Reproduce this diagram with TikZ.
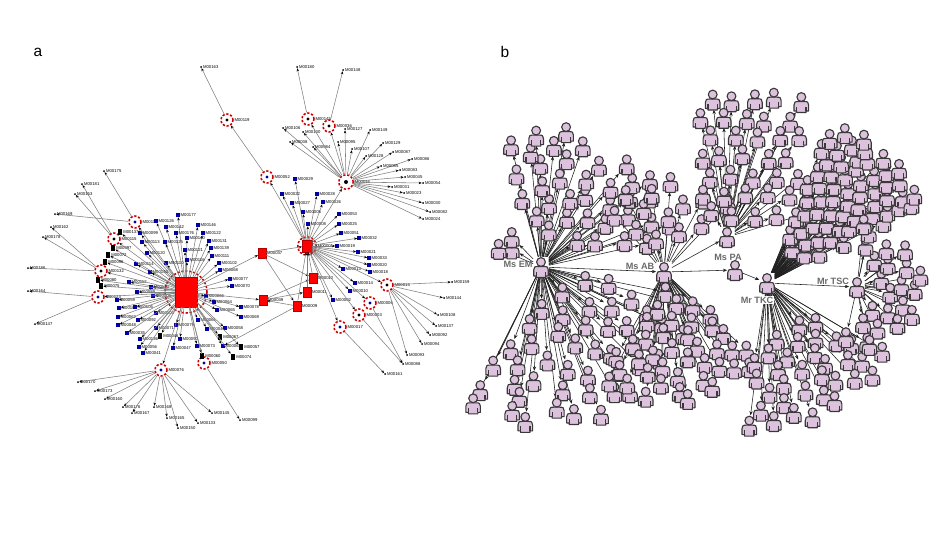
\documentclass[tikz,border=0pt]{standalone}
\usepackage{fontspec}
\setmainfont{Liberation Sans}
\usetikzlibrary{arrows.meta,positioning}
\pgfdeclarelayer{fond}
\pgfsetlayers{fond,main}
\definecolor{mauve}{RGB}{221,194,222}
\definecolor{violet2}{RGB}{165,40,235}
\definecolor{gristxt}{RGB}{105,105,105}

\tikzset{lettre/.style = {font=\fontsize{11}{13}\selectfont, inner sep=0},
         etiq/.style = {font=\fontsize{3}{3.5}\selectfont, inner sep=0.4pt},
         nom/.style = {font=\fontsize{6.5}{8}\selectfont\bfseries, text=gristxt, inner sep=0.6pt},
         lien/.style = {draw=gray, line width=0.4pt,
                        -{Stealth[length=2.2pt,width=1.8pt,color=black]}},
         fil/.style = {draw=gray!25!black, line width=0.4pt,
                       -{Stealth[length=3pt,width=2.4pt]}},
         feuille/.style = {fill=blue!65!black, minimum width=0.8mm, minimum height=1mm, inner sep=0},
         noir/.style = {fill=black, minimum width=1.1mm, minimum height=1.5mm, inner sep=0},
         point/.style = {circle, fill=black, minimum size=0.5mm, inner sep=0},
         carre/.style = {fill=red, draw=red!70!black, line width=0.3pt,
                         minimum width=2mm, minimum height=2.6mm, inner sep=0},
         anneau/.style = {circle, draw=red!80!black, dash pattern=on 1.6pt off 1.2pt,
                          line width=1.1pt, minimum size=3mm, inner sep=0},
         place/.style = {minimum width=3.8mm, minimum height=5mm, inner sep=0},
         corps/.style = {fill=mauve, draw=gray!45!black, line width=0.8pt, line join=round},
         perso/.pic = {
           \draw[corps, pic actions] (-4.7,10.5) -- (-4.7,9) -- (-7.3,9) -- (-7.3,3)
             .. controls (-7.3,0) and (-6.2,-0.5) .. (-3,-0.5) -- (3,-0.5)
             .. controls (6.2,-0.5) and (7.3,0) .. (7.3,3) -- (7.3,9) -- (4.7,9) -- (4.7,10.5) -- cycle;
           \draw[corps, pic actions] (-4.7,9) -- (-4.7,4.5) (4.7,9) -- (4.7,4.5);
           \draw[corps, pic actions] (0,-5) circle (4.4);
         }
        }

% hub, prefix, count, angle min, angle max, radius min, radius max (radii in tens)
\newcommand\foule[7]{%
  \foreach \i in {1,...,#3}{
    \pgfmathsetmacro\fa{mod(\i*0.618034+0.08*rnd,1)}
    \pgfmathsetmacro\fr{(\i-0.5+0.4*(rnd-0.5))/#3}
    \pgfmathsetmacro\angf{#4+(#5-#4)*\fa}
    \pgfmathsetmacro\rayf{10*sqrt(#6*#6+(#7*#7-#6*#6)*\fr)}
    \node[place] (#2\i) at ([shift={({\rayf*cos(\angf)},{-\rayf*sin(\angf)})}]#1) {};
  }
  \begin{pgfonlayer}{fond}
    \foreach \i in {1,...,#3} \draw[fil] (#1) -- (#2\i);
  \end{pgfonlayer}
  \foreach \i in {1,...,#3} \pic at (#2\i) {perso};
}

% hub, prefix, x0, y0, columns, rows, dx, dy
\newcommand\grille[8]{%
  \foreach \rg in {1,...,#6}{\foreach \cg in {1,...,#5}{
    \pgfmathsetmacro\gx{#3+(\cg-1)*#7+mod(\rg,2)*#7/2+7*(rnd-0.5)}
    \pgfmathsetmacro\gy{#4+(\rg-1)*#8+6*(rnd-0.5)}
    \node[place] (#2\rg-\cg) at (\gx,\gy) {};
  }}
  \begin{pgfonlayer}{fond}
    \foreach \rg in {1,...,#6}{\foreach \cg in {1,...,#5} \draw[fil] (#1) -- (#2\rg-\cg);}
  \end{pgfonlayer}
  \foreach \rg in {1,...,#6}{\foreach \cg in {1,...,#5} \pic at (#2\rg-\cg) {perso};}
}

\begin{document}
\begin{tikzpicture}[x=0.25mm, y=-0.25mm]
  \useasboundingbox (0,0) rectangle (945,532);
  \node[lettre] (la) at (38,52) {a};
  \node[lettre] (lb) at (505,52) {b};

  % a : hubs
  \node[anneau, minimum size=10.5mm] (h1r) at (186,292) {};
  \node[carre, minimum width=5.5mm, minimum height=7.5mm] (h1) at (186,292) {};
  \node[anneau, minimum size=4.6mm, label={[etiq]right:M00001}] (h2r) at (307,246) {};
  \node[carre, minimum width=2.4mm, minimum height=3mm] (h2) at (307,246) {};
  \node[anneau, minimum size=3.6mm, label={[etiq]right:M00016}] (h3) at (346,182) {};
  \fill (h3) circle (2);

  % a : red squares
  \foreach \x/\y/\nm in {262/253/037, 263/300/039, 313/278/012, 307/292/011, 297/306/009}
    \node[carre, label={[etiq]right:M00\nm}] (q\nm) at (\x,\y) {};

  % a : rings
  \foreach \x/\y/\nm/\c in {135/222/118/blue!65!black, 114/239/115/black, 101/271/132/black,
                            98/297/123/blue!65!black, 161/370/076/blue!65!black, 204/363/050/blue!65!black,
                            267/177/052/blue!65!black, 227/120/119/black, 308/119/145/black, 329/126/036/black,
                            387/285/015/black, 370/303/006/blue!65!black, 359/315/003/black,
                            340/327/017/blue!65!black}{
    \node[anneau, label={[etiq]right:M00\nm}] (r\nm) at (\x,\y) {};
    \fill[\c] (r\nm) circle (1.6);
  }

  % a : leaves of the big hub
  \foreach \x/\y/\nm in {178/215/177, 156/221/126, 166/227/142, 198/225/146, 176/233/176, 203/233/122,
                         140/233/099, 142/242/113, 165/242/125, 187/238/140, 209/241/131, 147/253/120,
                         185/250/121, 211/248/139, 166/263/110, 187/260/116, 212/256/111, 136/264/114,
                         219/263/102, 150/272/134, 220/270/068, 230/279/077, 129/282/112, 232/286/070,
                         151/287/124, 137/292/089, 153/296/108, 117/300/059, 206/296/066, 214/302/064,
                         119/308/100, 135/307/105, 241/307/078, 217/310/065, 118/317/062, 156/313/104,
                         241/317/069, 138/320/092, 198/320/061, 118/325/048, 156/328/071, 176/325/079,
                         207/329/049, 225/328/058, 127/333/035, 180/339/090, 140/339/136, 139/347/056,
                         173/348/047, 197/346/073, 223/346/063, 143/353/041}{
    \node[feuille, label={[etiq]right:M00\nm}] (a\nm) at (\x,\y) {};
    \draw[lien] (h1) -- (a\nm);
  }
  \foreach \x/\y/\nm in {160/336/046, 220/337/067, 241/347/057, 202/356/060, 233/357/074, 120/232/137,
                         113/248/097, 108/255/072, 105/262/096, 98/280/080, 101/286/075}{
    \node[noir, label={[etiq]right:M00\nm}] (a\nm) at (\x,\y) {};
    \draw[lien] (h1) -- (a\nm);
  }

  % a : leaves of M00001
  \foreach \x/\y/\nm in {295/179/029, 282/194/022, 317/194/028, 292/203/027, 323/202/026, 303/212/005,
                         308/224/008, 339/214/053, 339/224/025, 341/233/051, 359/238/032, 337/246/019,
                         358/252/021, 369/258/033, 369/265/020, 343/269/013, 370/272/018, 355/283/014,
                         350/291/010, 333/300/002}{
    \node[feuille, label={[etiq]right:M00\nm}] (b\nm) at (\x,\y) {};
    \draw[lien] (h2) -- (b\nm);
  }

  % a : leaves of M00016
  \foreach \x/\y/\nm in {283/128/106, 303/132/130, 290/142/038, 313/147/084, 345/129/127, 338/142/095,
                         370/130/149, 352/149/107, 383/143/129, 393/152/087, 366/156/128, 412/159/086,
                         381/166/085, 400/170/083, 405/177/045, 423/183/054, 392/187/031, 404/193/023,
                         423/203/030, 430/212/082, 423/219/024}{
    \node[point, label={[etiq]right:M00\nm}] (c\nm) at (\x,\y) {};
    \draw[lien] (h3) -- (c\nm);
  }

  % a : leaves of M00015
  \foreach \x/\y/\nm in {452/282/159, 444/298/144, 438/315/108, 436/326/137, 430/335/092, 422/344/094}{
    \node[point, label={[etiq]right:M00\nm}] (d\nm) at (\x,\y) {};
    \draw[lien] (r015) -- (d\nm);
  }

  % a : leaves of M00076
  \foreach \x/\y/\nm in {78/382/170, 95/391/173, 105/399/160, 123/407/176, 132/413/167, 154/407/168,
                         167/418/165, 178/428/150, 198/423/133, 212/413/145}{
    \node[point, label={[etiq]right:M00\nm}] (e\nm) at (\x,\y) {};
    \draw[lien] (r076) -- (e\nm);
  }

  % a : outer leaves
  \foreach \x/\y/\nm/\src in {104/171/175/r118, 82/184/181/r115, 75/194/153/r115, 55/214/169/r118,
                              51/227/162/r132, 43/237/178/r132, 28/268/186/r132, 28/291/164/r123,
                              35/324/147/r123, 201/67/163/r119, 297/67/180/r145, 343/70/148/r036,
                              385/374/161/r017, 403/364/088/r006, 407/355/093/r015, 240/420/099/r050}{
    \node[point, label={[etiq]right:M00\nm}] (p\nm) at (\x,\y) {};
    \draw[lien] (\src) -- (p\nm);
  }

  \foreach \u/\v in {h1/r118, h1/r115, h1/r132, h1/r123, h1/r076, h1/r050, h1/q037, h1/q039,
                     q037/h2, q037/q012, q037/q009, q039/q011, q039/q012, q009/q039, q009/h2,
                     q011/h2, q012/h2, q009/a063, h2/r052, r052/r119, h2/h3, h2/r015, h2/r006,
                     h2/r003, h2/r017, r003/p088, h3/r145, h3/r036}
    \draw[lien] (\u) -- (\v);

  % b : hubs
  \node[place] (em) at (541,267) {};
  \node[place] (ab) at (664,272) {};
  \node[place] (pa) at (727,237) {};
  \node[place] (mid) at (735,270) {};
  \node[place] (tkc) at (767,283) {};
  \node[place] (tsc) at (857,287) {};
  \begin{pgfonlayer}{fond}
    \foreach \u/\v in {em/ab, ab/pa, ab/mid, mid/tkc, tkc/tsc}
      \draw[fil] (\u) -- (\v);
  \end{pgfonlayer}

  \pgfmathsetseed{7}
  \foule{em}{e}{36}{12}{108}{3.5}{14}
  \foule{em}{f}{46}{-118}{-8}{3}{16}
  \foule{em}{g}{3}{125}{160}{3}{5}
  \foule{ab}{h}{13}{40}{135}{3}{9.5}
  \foule{ab}{k}{38}{-122}{-38}{3}{13}
  \grille{pa}{p}{700}{100}{5}{7}{22}{19}
  \foule{tkc}{t}{62}{26}{68}{4}{17.5}
  \foule{tkc}{u}{34}{-100}{-30}{5}{14.5}
  \foule{tsc}{s}{22}{-110}{85}{2.4}{6.5}

  \pic at (ab) {perso};
  \pic at (pa) {perso};
  \pic at (mid) {perso};
  \pic at (tkc) {perso};
  \pic at (tsc) {perso};
  \pic[fill=violet2, draw=violet2!70!black] at (em) {perso};

  \node[nom] (tem) at (518,264) {Ms EM};
  \node[nom] (tab) at (640,266) {Ms AB};
  \node[nom] (tpa) at (728,257) {Ms PA};
  \node[nom, fill=white] (ttkc) at (757,300) {Mr TKC};
  \node[nom, fill=white] (ttsc) at (833,281) {Mr TSC};
\end{tikzpicture}
\end{document}
